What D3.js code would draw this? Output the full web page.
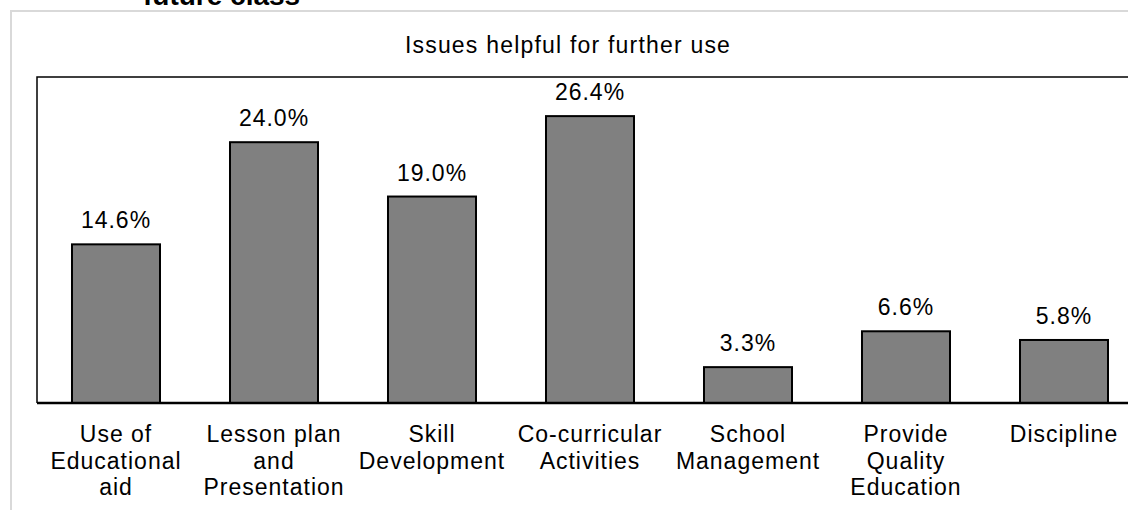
<!DOCTYPE html>
<html lang="en">
<head>
	<meta charset="utf-8"/>
	<title>Issues helpful for further use</title>
	<script src="https://d3js.org/d3.v7.min.js"></script>
	<style>
		body { margin: 0; background: #fff; }
		text { font-family: "Liberation Sans", Arial, sans-serif; fill: #000; }
		.lbl { font-size: 23px; letter-spacing: 1px; }
		.title { font-size: 23px; letter-spacing: 1.2px; }
	</style>
</head>
<body>
<div id="chart"></div>

<script>
	// data
	var categories = [
		["Use of", "Educational", "aid"],
		["Lesson plan", "and", "Presentation"],
		["Skill", "Development"],
		["Co-curricular", "Activities"],
		["School", "Management"],
		["Provide", "Quality", "Education"],
		["Discipline"]
	];
	var values = [14.6, 24.0, 19.0, 26.4, 3.3, 6.6, 5.8];
	var yTicks = [0, 30];

	var width = 1128,
		height = 510;

	var svg = d3.select("#chart").append("svg")
		.attr("width", width)
		.attr("height", height);

	// outer chart frame (light gray), runs off the right/bottom edge
	svg.append("rect")
		.attr("x", 11)
		.attr("y", 11)
		.attr("width", 1200)
		.attr("height", 600)
		.attr("fill", "none")
		.attr("stroke", "#d9d9d9")
		.attr("stroke-width", 2);

	// heading above the frame, clipped by the top edge as in the source
	svg.append("text")
		.attr("x", 143)
		.attr("y", 5)
		.attr("font-size", "28px")
		.attr("font-weight", "bold")
		.text("future class");

	var m = {left: 37, top: 77, bottom: 403};

	var x = d3.scaleBand()
		.domain(d3.range(categories.length))
		.range([m.left, m.left + 158 * categories.length])
		.paddingInner(0.443)
		.paddingOuter(0.2215);

	var y = d3.scaleLinear()
		.domain([yTicks[0], yTicks[1]])
		.range([m.bottom, m.top]);

	// plot area border: top and left
	svg.append("path")
		.attr("d", "M" + (width + 10) + "," + y(yTicks[1]) + "H" + m.left + "V" + y(0))
		.attr("fill", "none")
		.attr("stroke", "#000")
		.attr("stroke-width", 1.5);

	svg.append("text")
		.attr("class", "title")
		.attr("x", 568)
		.attr("y", 53)
		.attr("text-anchor", "middle")
		.text("Issues helpful for further use");

	svg.append("g")
		.selectAll("rect")
		.data(values)
		.enter().append("rect")
			.attr("x", function(d, i) { return x(i); })
			.attr("y", function(d) { return y(d); })
			.attr("width", x.bandwidth())
			.attr("height", function(d) { return y(0) - y(d); })
			.attr("fill", "#808080")
			.attr("stroke", "#000")
			.attr("stroke-width", 2);

	svg.append("g")
		.selectAll("text")
		.data(values)
		.enter().append("text")
			.attr("class", "lbl")
			.attr("x", function(d, i) { return x(i) + x.bandwidth() / 2; })
			.attr("y", function(d) { return y(d) - 16; })
			.attr("text-anchor", "middle")
			.text(function(d) { return d.toFixed(1) + "%"; });

	// x axis line
	svg.append("line")
		.attr("x1", m.left)
		.attr("x2", width + 10)
		.attr("y1", y(0))
		.attr("y2", y(0))
		.attr("stroke", "#000")
		.attr("stroke-width", 2.5);

	// category labels, one tspan per line
	var cat = svg.append("g")
		.selectAll("text")
		.data(categories)
		.enter().append("text")
			.attr("class", "lbl")
			.attr("text-anchor", "middle")
			.attr("transform", function(d, i) { return "translate(" + (x(i) + x.bandwidth() / 2) + "," + (y(0) + 39) + ")"; });

	cat.selectAll("tspan")
		.data(function(d) { return d; })
		.enter().append("tspan")
			.attr("x", 0)
			.attr("y", function(d, i) { return i * 26.7; })
			.text(function(d) { return d; });
</script>
</body>
</html>
